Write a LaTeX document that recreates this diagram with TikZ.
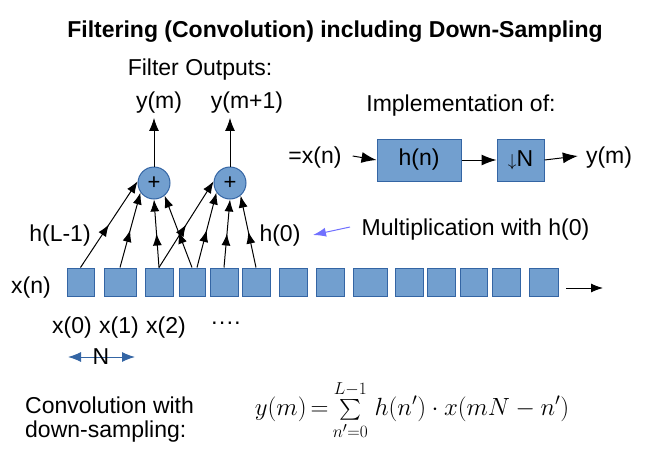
\documentclass[tikz,border=0pt]{standalone}
\usepackage{amsmath}
\usepackage{fontspec}
\setmainfont{Liberation Sans}
\usetikzlibrary{arrows.meta,decorations.markings}
\definecolor{boxfill}{HTML}{729FCF}
\definecolor{boxline}{HTML}{3465A4}
\definecolor{hintblue}{HTML}{7070FF}
\tikzset{
  sq/.style={draw=boxline,fill=boxfill,line width=1pt,minimum height=28pt,inner sep=0pt},
  sumnode/.style={circle,draw=boxline,fill=boxfill,line width=1pt,minimum size=32pt,inner sep=0pt,font=\fontsize{22}{24}\selectfont},
  blk/.style={draw=boxline,fill=boxfill,line width=1pt,minimum height=42pt,inner sep=0pt,font=\fontsize{23}{27}\selectfont},
  txt/.style={inner sep=0pt,font=\fontsize{23}{27}\selectfont},
  tip/.style={-{Latex[length=12pt,width=9pt]}},
  midtip/.style={postaction={decorate},decoration={markings,mark=at position 0.5 with {\arrow{Latex[length=12pt,width=9pt]}}}},
  wire/.style={line width=1pt,black},
}
\newcommand{\smallsum}{\mathop{\mbox{\fontsize{21}{21}\selectfont$\sum$}}}
\begin{document}
\begin{tikzpicture}[x=1pt,y=-1pt]
\useasboundingbox (0,0) rectangle (664,466);
% title
\node[inner sep=0pt,font=\fontsize{23}{27}\selectfont\bfseries] (title) at (335,32) {Filtering (Convolution) including Down-Sampling};
\node[txt] (fo) at (200,70) {Filter Outputs:};
\node[txt] (ym) at (159,103) {y(m)};
\node[txt] (ym1) at (247,103) {y(m+1)};
% summation nodes
\node[sumnode] (c1) at (154,183) {+};
\node[sumnode] (c2) at (230,183) {+};
% squares
\foreach \i/\cx/\w in {1/80.5/27,2/120/32,3/159/28,4/192/26,5/224/28,6/256/28,7/293/28,8/330/28,9/370/34,10/409/28,11/441/28,12/473.5/27,13/506/28,14/543.5/29}
  \node[sq,minimum width=\w pt] (s\i) at (\cx,282) {};
\coordinate (xa) at (566,288);
\coordinate (xb) at (603,288);
\draw[wire,tip] (xa) -- (xb);
\node[txt] (xn) at (31,288) {x(n)};
\node[txt] (hL) at (60,236) {h(L-1)};
\node[txt] (h0) at (280,236) {h(0)};
% inputs to c1
\draw[wire,tip,midtip] (s1.north) -- (c1.174);
\draw[wire,tip,midtip] (s2.north) -- (c1.215);
\draw[wire,tip,midtip] (s3.north) -- (c1.270);
\draw[wire,tip,midtip] (s4.north) -- (c1.310);
% inputs to c2
\draw[wire,tip,midtip] (s3.north) -- (c2.174);
\draw[wire,tip,midtip] ([xshift=5pt]s4.north) -- (c2.215);
\draw[wire,tip,midtip] (s5.north) -- (c2.270);
\draw[wire,tip,midtip] (s6.north) -- (c2.310);
% outputs
\draw[wire,-{Latex[length=13pt,width=10pt]}] (c1.north) -- ([yshift=-4pt]ym.south -| c1.north);
\draw[wire,-{Latex[length=13pt,width=10pt]}] (c2.north) -- ([yshift=-4pt]ym1.south -| c2.north);
% implementation
\node[txt] (impl) at (461,106) {Implementation of:};
\node[txt] (xin) at (315,158) {=x(n)};
\node[blk,minimum width=84pt] (hb) at (419,160) {h(n)};
\node[blk,minimum width=47pt] (db) at (520.5,160) {\fontsize{17}{19}\selectfont$\downarrow$\fontsize{23}{27}\selectfont N};
\node[txt] (yout) at (609,158) {y(m)};
\draw[wire,-{Latex[length=15pt,width=11pt]}] ([xshift=11pt,yshift=2pt]xin.east) -- (hb.west);
\draw[wire,-{Latex[length=15pt,width=11pt]}] (hb.east) -- (db.west);
\draw[wire,-{Latex[length=15pt,width=11pt]}] (db.east) -- ([xshift=-8pt,yshift=2pt]yout.west);
% multiplication note
\node[txt] (mult) at (475.5,230) {Multiplication with h(0)};
\coordinate (ma) at (350,227);
\coordinate (mb) at (313,235);
\draw[hintblue,line width=1pt,-{Latex[length=13pt,width=9pt]}] (ma) -- (mb);
% indices
\node[txt] (x0) at (72,328) {x(0)};
\node[txt] (x1) at (119,328) {x(1)};
\node[txt] (x2) at (166,328) {x(2)};
\node[txt] (dots) at (226,326) {····};
\coordinate (nl) at (68,357);
\coordinate (nr) at (135,357);
\draw[boxline,line width=1pt,{Latex[length=13pt,width=10pt]}-{Latex[length=13pt,width=10pt]}] (nl) -- (nr);
\node[txt] (N) at (101,357) {N};
% formula
\node[txt,anchor=west,align=left,font=\fontsize{23}{24}\selectfont] (conv) at (25,420) {Convolution with\\down-sampling:};
\node[inner sep=0pt,font=\fontsize{27}{30}\selectfont] (formula) at (412,410) {$y(m)\mkern-2mu=\mkern-2mu\smallsum\limits_{n'=0}^{L-1}\mkern2mu h(n')\cdot x(mN-n')$};
\end{tikzpicture}
\end{document}
